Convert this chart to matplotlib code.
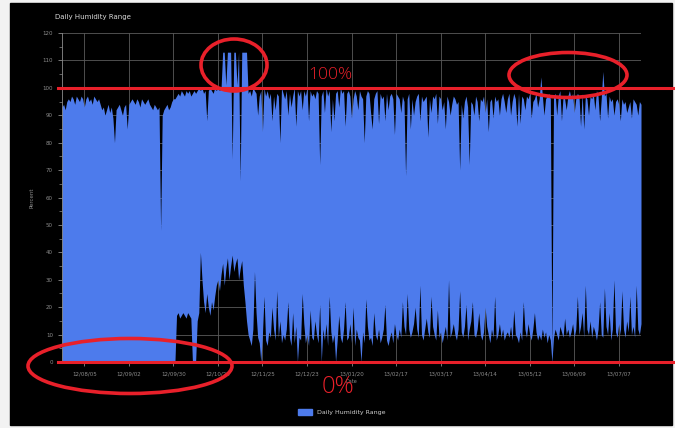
import matplotlib
matplotlib.use("Agg")
import matplotlib.pyplot as plt
import matplotlib.dates as mdates
from matplotlib.patches import Ellipse, Rectangle
from matplotlib.transforms import blended_transform_factory
import pandas as pd

# daily max / min relative humidity, one value per day (rows of 20 days)
high = [
    93, 94, 92, 95, 96, 95, 97, 96, 94, 97, 96, 95, 97, 96, 93, 96, 97, 95, 96, 94,
    97, 96, 95, 96, 94, 92, 93, 90, 92, 94, 91, 93, 89, 80, 92, 93, 94, 92, 90, 93,
    94, 85, 94, 95, 96, 95, 94, 96, 95, 93, 96, 95, 94, 95, 96, 94, 93, 92, 94, 93,
    92, 93, 48, 90, 92, 93, 94, 92, 93, 95, 96, 96, 97, 98, 97, 99, 98, 97, 99, 98,
    99, 97, 98, 99, 98, 99, 100, 99, 100, 98, 99, 88, 99, 100, 99, 98, 100, 99, 100, 99,
    100, 113, 113, 101, 113, 113, 113, 74, 113, 113, 101, 113, 66, 113, 113, 113, 113, 98, 99, 97,
    100, 99, 98, 90, 97, 99, 84, 100, 97, 99, 96, 98, 88, 97, 92, 98, 97, 80, 100, 98,
    96, 99, 90, 98, 93, 97, 100, 86, 99, 97, 99, 92, 99, 97, 100, 88, 99, 97, 98, 96,
    99, 98, 72, 97, 99, 91, 100, 97, 99, 84, 96, 88, 98, 99, 93, 100, 98, 99, 86, 98,
    99, 97, 89, 96, 99, 97, 92, 99, 97, 96, 80, 97, 99, 98, 91, 85, 96, 98, 99, 87,
    98, 96, 97, 88, 98, 92, 97, 98, 96, 83, 98, 97, 96, 91, 97, 95, 68, 96, 98, 85,
    96, 90, 95, 97, 98, 88, 97, 95, 96, 97, 82, 96, 91, 97, 96, 98, 87, 97, 96, 92,
    95, 85, 97, 95, 90, 94, 97, 96, 94, 95, 70, 94, 89, 95, 97, 93, 72, 95, 94, 90,
    97, 95, 88, 96, 95, 97, 91, 96, 84, 95, 96, 89, 97, 95, 96, 90, 96, 98, 95, 91,
    96, 98, 90, 95, 98, 96, 86, 98, 87, 97, 96, 92, 97, 96, 98, 89, 95, 96, 98, 93,
    96, 104, 97, 90, 96, 97, 98, 96, 3, 97, 98, 90, 97, 99, 88, 97, 96, 92, 97, 99,
    96, 98, 91, 96, 98, 97, 86, 98, 85, 97, 96, 90, 97, 96, 98, 92, 99, 97, 88, 96,
    106, 97, 98, 89, 97, 95, 96, 90, 95, 96, 94, 88, 96, 94, 95, 91, 93, 95, 89, 96,
    95, 94, 90, 95, 94,
]
low = [
    0, 0, 0, 0, 0, 0, 0, 0, 0, 0, 0, 0, 0, 0, 0, 0, 0, 0, 0, 0,
    0, 0, 0, 0, 0, 0, 0, 0, 0, 0, 0, 0, 0, 0, 0, 0, 0, 0, 0, 0,
    0, 0, 0, 0, 0, 0, 0, 0, 0, 0, 0, 0, 0, 0, 0, 0, 0, 0, 0, 0,
    0, 0, 0, 0, 0, 0, 0, 0, 0, 0, 0, 0, 17, 18, 16, 17, 18, 17, 16, 18,
    17, 16, 0, 0, 0, 15, 18, 40, 30, 22, 18, 25, 20, 17, 22, 19, 24, 28, 30, 26,
    32, 36, 28, 34, 38, 30, 35, 39, 33, 36, 38, 30, 34, 37, 28, 22, 15, 10, 8, 6,
    12, 33, 18, 9, 7, 0, 10, 24, 8, 6, 11, 9, 20, 12, 8, 26, 9, 15, 7, 10,
    8, 12, 22, 9, 6, 18, 7, 13, 0, 9, 8, 25, 14, 7, 10, 6, 19, 9, 8, 15,
    10, 7, 21, 0, 12, 8, 14, 6, 24, 11, 7, 10, 0, 8, 17, 9, 7, 12, 22, 8,
    9, 14, 7, 20, 6, 12, 9, 8, 0, 11, 7, 23, 13, 8, 9, 6, 18, 10, 8, 12,
    7, 9, 12, 21, 8, 6, 9, 11, 7, 14, 10, 8, 12, 9, 22, 13, 10, 25, 12, 9,
    11, 14, 20, 12, 9, 28, 10, 8, 12, 16, 11, 9, 24, 13, 10, 8, 19, 9, 11, 7,
    10, 13, 8, 30, 9, 11, 14, 10, 8, 12, 26, 11, 9, 13, 21, 8, 12, 15, 22, 10,
    9, 12, 18, 10, 8, 11, 20, 13, 10, 7, 12, 9, 24, 8, 10, 14, 9, 12, 8, 10,
    11, 9, 13, 8, 19, 10, 9, 7, 11, 8, 22, 12, 9, 14, 10, 8, 12, 18, 11, 8,
    10, 8, 12, 9, 11, 7, 10, 8, 0, 9, 12, 10, 8, 13, 11, 9, 16, 10, 12, 9,
    11, 14, 9, 12, 24, 10, 13, 18, 9, 28, 12, 10, 15, 9, 13, 11, 8, 12, 22, 10,
    9, 27, 13, 10, 18, 8, 12, 30, 11, 9, 14, 10, 26, 12, 9, 15, 11, 24, 10, 13,
    9, 28, 12, 10, 14,
]
start_date = "2012-07-22"
first_tick = "2012-08-05"
n_ticks = 13

dates = pd.date_range(start_date, periods=len(high), freq="D")
ticks = pd.date_range(first_tick, periods=n_ticks, freq="28D")

BLUE = "#4d7bec"
RED = "#e8202a"
GREY = "#8c8c8c"

fig = plt.figure(figsize=(6.75, 4.28), dpi=100, facecolor="#f2f2f2")
fig.patches.append(Rectangle((10 / 675, 3 / 428), 662 / 675, 422 / 428,
                             transform=fig.transFigure, color="black", zorder=-5))

ax = fig.add_axes([62 / 675, 1 - 362 / 428, 579 / 675, 329 / 428])
ax.set_facecolor("black")
ax.fill_between(dates, low, high, color=BLUE, lw=0, zorder=2)

ax.set_ylim(0, 120)
ax.set_yticks(range(0, 121, 10))
ax.set_yticks(range(5, 120, 10), minor=True)
ax.set_xlim(dates[0], dates[-1])
ax.set_xticks(ticks)
ax.xaxis.set_major_formatter(mdates.DateFormatter("%y/%m/%d"))
ax.grid(True, color="#5a5a5a", lw=0.6, zorder=1)
ax.set_axisbelow(True)
ax.tick_params(colors=GREY, labelsize=4, length=3, width=0.6)
ax.tick_params(which="minor", colors=GREY, length=2, width=0.5)
for side in ["top", "right", "bottom"]:
    ax.spines[side].set_visible(False)
ax.spines["left"].set_color(GREY)
ax.spines["left"].set_linewidth(0.6)
ax.set_ylabel("Percent", color=GREY, fontsize=4, labelpad=6)
ax.set_xlabel("Date", color=GREY, fontsize=3.5, labelpad=2)

fig.text(55 / 675, 1 - 17 / 428, "Daily Humidity Range", color="#d8d8d8",
         fontsize=5, va="center")
leg = fig.legend(handles=[Rectangle((0, 0), 1, 1, color=BLUE)],
                 labels=["Daily Humidity Range"], loc="center",
                 bbox_to_anchor=(342 / 675, 1 - 412 / 428), frameon=False,
                 fontsize=4.5, handlelength=2.2, handleheight=1.0)
for t in leg.get_texts():
    t.set_color("#cfcfcf")

# red annotations on top of the screenshot
tr = blended_transform_factory(fig.transFigure, ax.transData)
for level in [100, 0]:
    ax.plot([58 / 675, 1.0], [level, level], color=RED, lw=2.2,
            transform=tr, clip_on=False, zorder=5)
fig.text(330 / 675, 1 - 75 / 428, "100%", color=RED, fontsize=12.5,
         ha="center", va="center", family="Open Sans", weight="light")
fig.text(338 / 675, 1 - 387 / 428, "0%", color=RED, fontsize=17,
         ha="center", va="center", family="Open Sans", weight="light")
for cx, cy, w, h in [(234, 65, 66, 52), (568, 75, 118, 45), (130, 366, 204, 55)]:
    fig.patches.append(Ellipse((cx / 675, 1 - cy / 428), w / 675, h / 428,
                               transform=fig.transFigure, fill=False,
                               edgecolor=RED, lw=2.6, zorder=6))

fig.savefig("out.png", dpi=100, facecolor=fig.get_facecolor())
